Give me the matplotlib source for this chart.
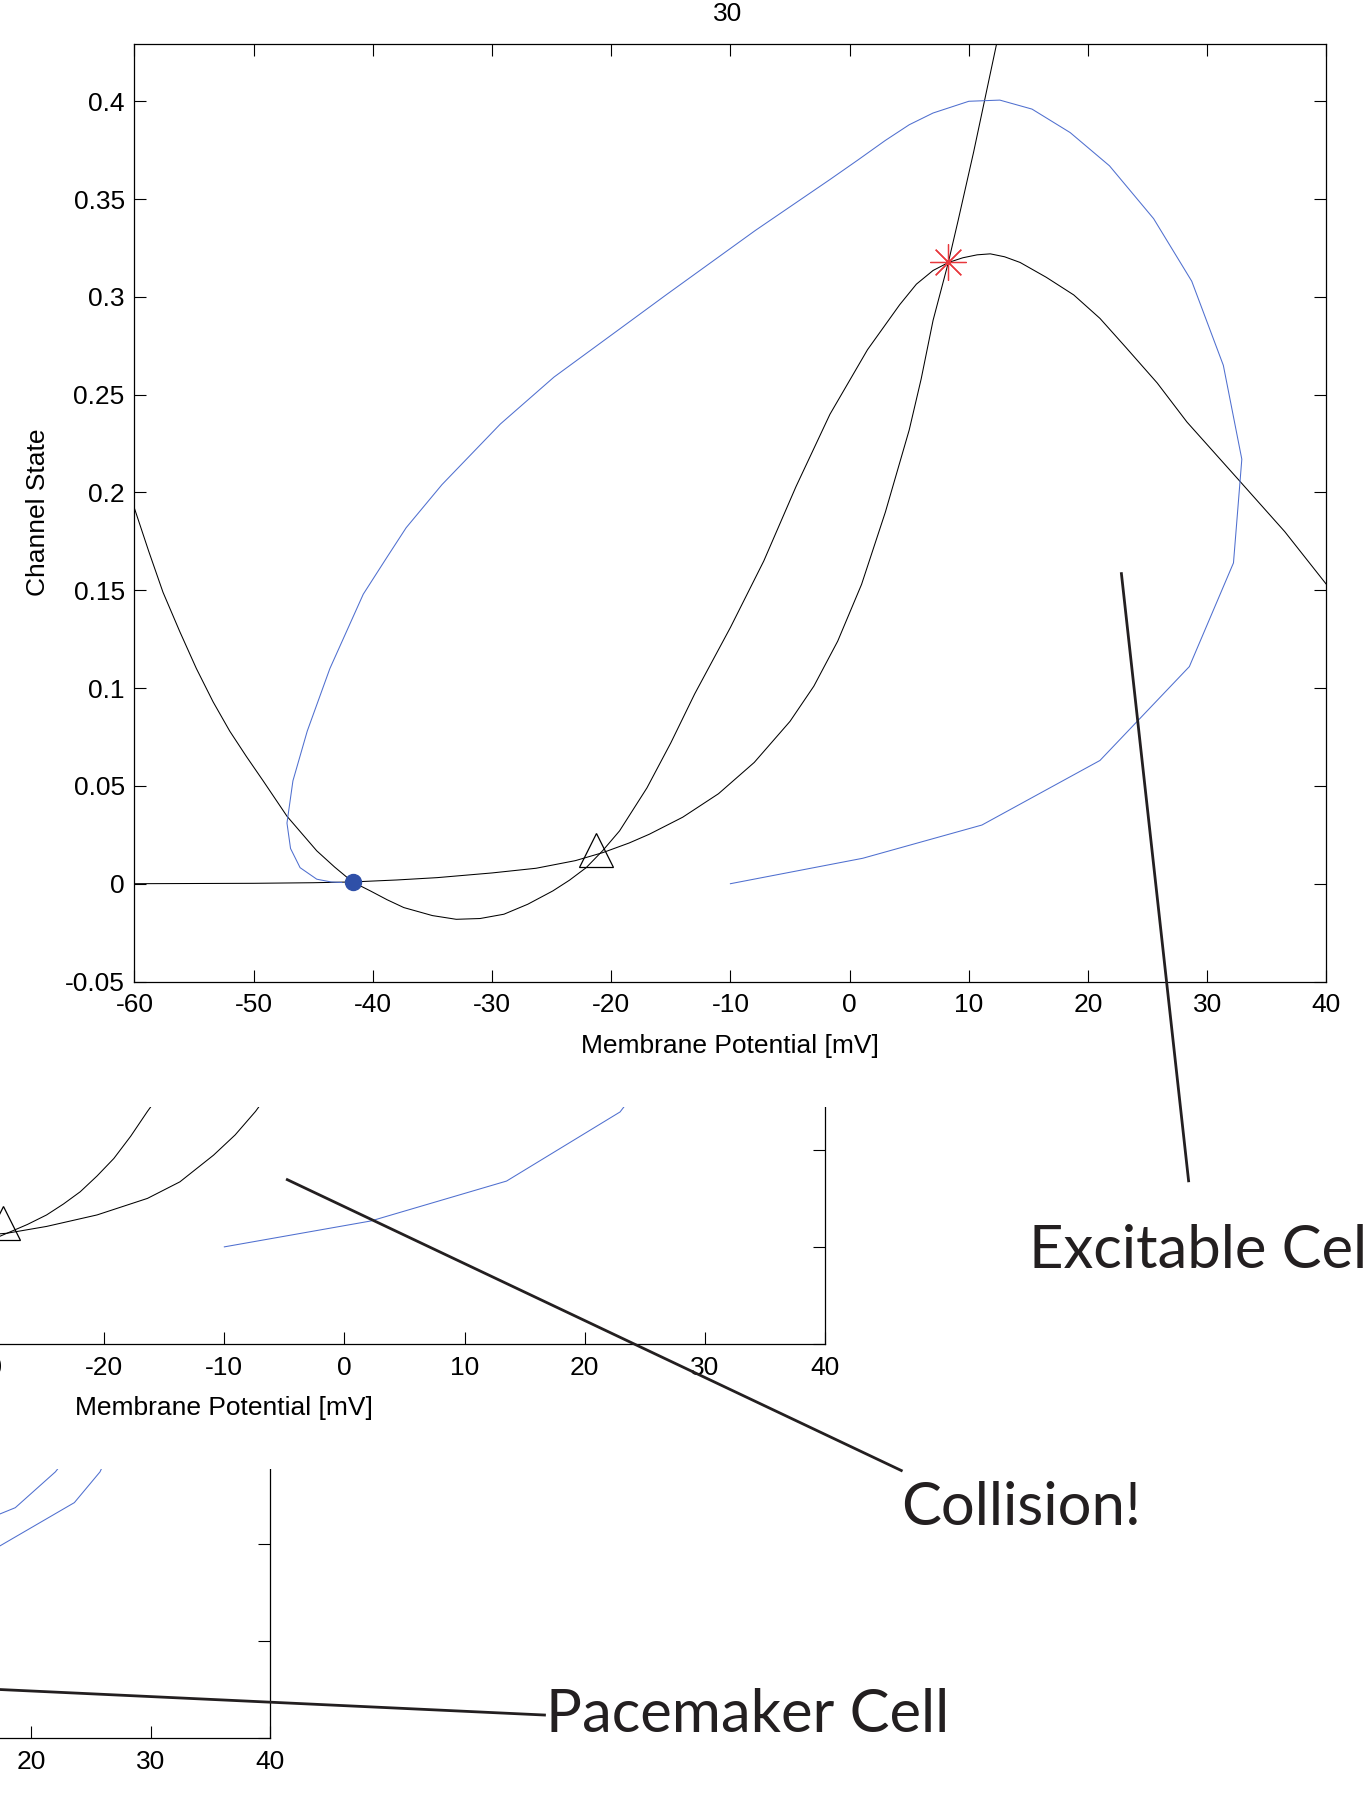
import matplotlib
import matplotlib.pyplot as plt
from matplotlib.lines import Line2D
from matplotlib.patches import Rectangle

matplotlib.use("Agg")

plt.rcParams["font.family"] = ["Liberation Sans", "DejaVu Sans"]
plt.rcParams["axes.unicode_minus"] = False

# layout grid of the reference (px), used only for placing panels and notes
W, H = 1180, 1568

# ---- data -------------------------------------------------------------
x_ticks = [-60, -50, -40, -30, -20, -10, 0, 10, 20, 30, 40]
x_tick_labels = ["-60", "-50", "-40", "-30", "-20", "-10", "0", "10", "20", "30", "40"]
y_ticks = [-0.05, 0, 0.05, 0.1, 0.15, 0.2, 0.25, 0.3, 0.35, 0.4]
y_tick_labels = ["-0.05", "0", "0.05", "0.1", "0.15", "0.2", "0.25", "0.3", "0.35", "0.4"]

# main panel: V-nullcline (N shaped), s-nullcline (steep), trajectory
null_a_v = [-60, -58.8, -57.6, -56.2, -54.8, -53.4, -52.0, -50.6, -49.2, -47.2, -44.7,
            -43.2, -41.7, -40.2, -38.8, -37.4, -35.0, -33.0, -31.0, -29.0, -27.0, -24.9,
            -23.5, -22.1, -20.7, -19.3, -17.0, -15.0, -13.0, -10.0, -7.2, -4.5, -1.65,
            1.5, 4.2, 5.6, 7.0, 8.3, 9.5, 10.7, 11.8, 13.0, 14.3, 16.5, 18.8, 21.0, 23.2,
            25.8, 28.3, 30.5, 32.7, 36.5, 40.0]
null_a_s = [0.192, 0.170, 0.149, 0.129, 0.110, 0.093, 0.078, 0.065, 0.0526, 0.0345,
            0.0168, 0.0085, 0.0009, -0.0037, -0.0082, -0.0122, -0.0163, -0.0182, -0.0178,
            -0.0156, -0.0105, -0.0037, 0.0018, 0.0082, 0.0170, 0.027, 0.049, 0.072, 0.097,
            0.131, 0.165, 0.203, 0.240, 0.273, 0.296, 0.3065, 0.3135, 0.3176, 0.320,
            0.3215, 0.322, 0.3205, 0.3176, 0.310, 0.301, 0.289, 0.274, 0.256, 0.236,
            0.221, 0.206, 0.180, 0.153]

null_b_v = [-60, -50, -45, -41.7, -38, -34.6, -30, -26.3, -23, -20.7, -18.5, -16.8, -14,
            -11, -8, -5, -3, -1, 1, 3, 5, 6, 7.0, 8.28, 9.1, 10.4, 12.7]
null_b_s = [0.0, 0.0002, 0.0005, 0.0009, 0.0019, 0.0031, 0.0055, 0.0079, 0.0118, 0.0159,
            0.0208, 0.0253, 0.034, 0.046, 0.062, 0.083, 0.101, 0.124, 0.153, 0.190,
            0.232, 0.258, 0.288, 0.3176, 0.339, 0.374, 0.44]

traj_v = [-10, 1.1, 11.1, 21.0, 28.5, 32.2, 32.9, 31.35, 28.7, 25.5, 21.8, 18.5, 15.3,
          12.6, 10.0, 7.0, 5.0, 3.0, 0.7, -1.65, -7.9, -15.4, -19.2, -24.8, -29.3,
          -34.2, -37.2, -38.8, -40.8, -43.6, -45.5, -46.7, -47.2, -46.9, -46.1, -44.7,
          -43.5, -42.6]
traj_s = [0.0, 0.013, 0.030, 0.063, 0.111, 0.164, 0.217, 0.265, 0.308, 0.340, 0.367,
          0.384, 0.396, 0.4006, 0.400, 0.394, 0.388, 0.380, 0.370, 0.360, 0.334, 0.301,
          0.284, 0.259, 0.235, 0.204, 0.182, 0.167, 0.148, 0.110, 0.078, 0.0526, 0.031,
          0.018, 0.0082, 0.0023, 0.0009, 0.0006]

rest_point = (-41.7, 0.0009)
saddle_point = (-21.3, 0.0172)
unstable_point = (8.28, 0.3176)

# middle panel (mostly hidden)
mid_a_v = [-33.0, -28.1, -26.4, -24.8, -23.4, -22.0, -20.6, -19.2, -17.8, -16.4, -14.0]
mid_a_s = [-0.006, 0.007, 0.0115, 0.0164, 0.0220, 0.0283, 0.0364, 0.0454, 0.0568, 0.0696, 0.090]
mid_b_v = [-36.0, -28.1, -24.8, -20.6, -16.4, -13.7, -10.9, -9.1, -7.4, -5.0]
mid_b_s = [0.003, 0.007, 0.0105, 0.0164, 0.0249, 0.0334, 0.0471, 0.0575, 0.0696, 0.090]
mid_traj_v = [-10, 2.2, 13.5, 22.95, 28.0]
mid_traj_s = [0.0, 0.0133, 0.0338, 0.0693, 0.11]
mid_saddle = (-28.4, 0.0125)

# bottom panel (mostly hidden)
low_traj1_v = [14.0, 17.38, 18.66, 22.02, 25.0]
low_traj1_s = [0.058, 0.0652, 0.0684, 0.0868, 0.11]
low_traj2_v = [14.0, 17.38, 23.61, 25.76, 27.5]
low_traj2_s = [0.040, 0.0488, 0.0710, 0.0868, 0.11]

BLUE = "#4f6fcf"
DOT = "#2f50a8"
INK = "#231f20"
FS = 19


def rect(left, right, top, bottom):
    return [left / W, 1 - bottom / H, (right - left) / W, (bottom - top) / H]


def phase_axes(fig, box, z, show_y=True):
    ax = fig.add_axes(box)
    ax.set_zorder(z)
    ax.set_xlim(-60, 40)
    ax.set_ylim(-0.05, 0.4295)
    ax.set_xticks(x_ticks)
    ax.set_xticklabels(x_tick_labels)
    ax.set_yticks(y_ticks)
    ax.set_yticklabels(y_tick_labels)
    ax.tick_params(direction="in", length=8.3, width=0.8, top=True, right=True,
                   labelsize=FS, colors="black", labelleft=show_y)
    ax.tick_params(axis="x", pad=8.5)
    ax.tick_params(axis="y", pad=7)
    for sp in ax.spines.values():
        sp.set_linewidth(0.9)
    ax.set_xlabel("Membrane Potential [mV]", fontsize=FS)
    ax.xaxis.set_label_coords(0.5, -0.056)
    return ax


fig = plt.figure(figsize=(13.67, 18.17), dpi=100)

# bottom panel (pacemaker), pasted below the others
ax3 = phase_axes(fig, rect(233 - 1030, 233, 1500 - 805.6, 1500), 0, show_y=False)
ax3.plot(low_traj1_v, low_traj1_s, color=BLUE, lw=0.75)
ax3.plot(low_traj2_v, low_traj2_s, color=BLUE, lw=0.75)

fig.add_artist(Rectangle((0, 1 - 1268 / H), 1, (1268 - 955) / H, transform=fig.transFigure,
                         facecolor="white", edgecolor="none", zorder=1))

# middle panel (collision)
ax2 = phase_axes(fig, rect(712 - 1036.7, 712, 1160 - 805.6, 1160), 2, show_y=False)
ax2.plot(mid_a_v, mid_a_s, color="black", lw=0.75)
ax2.plot(mid_b_v, mid_b_s, color="black", lw=0.75)
ax2.plot(mid_traj_v, mid_traj_s, color=BLUE, lw=0.75)
ax2.plot(*mid_saddle, marker="^", ms=25, mfc="none", mec="black", mew=0.9)

fig.add_artist(Rectangle((0, 1 - 955 / H), 1, 955 / H, transform=fig.transFigure,
                         facecolor="white", edgecolor="none", zorder=3))

# main panel (excitable cell)
ax = phase_axes(fig, rect(116, 1145, 847 - 809.4, 847), 4)
ax.plot(null_a_v, null_a_s, color="black", lw=0.75)
ax.plot(null_b_v, null_b_s, color="black", lw=0.75)
ax.plot(traj_v, traj_s, color=BLUE, lw=0.75)
ax.plot(*rest_point, marker="o", ms=11.5, color=DOT, mec=DOT)
ax.plot(*saddle_point, marker="^", ms=25, mfc="none", mec="black", mew=0.9)
ax.plot(*unstable_point, marker=(8, 2, 0), ms=26, color="#e8383d", mew=0.9)
ax.set_ylabel("Channel State", fontsize=FS)
ax.yaxis.set_label_coords(-0.071, 0.5)

# tick label of a panel further up, left over at the top edge
fig.text(628 / W, 1 - 12 / H, "30", ha="center", va="center", fontsize=FS, zorder=10)

# annotations
notes = [
    ("Excitable Cell", (888, 1094), [(968, 495), (1026, 1019)]),
    ("Collision!", (778, 1316), [(248, 1018), (778, 1269)]),
    ("Pacemaker Cell", (471, 1495), [(0, 1458), (470, 1480)]),
]
for label, (tx, ty), pts in notes:
    xs = [p[0] / W for p in pts]
    ys = [1 - p[1] / H for p in pts]
    fig.add_artist(Line2D(xs, ys, transform=fig.transFigure, color=INK, lw=2.0, zorder=10))
    fig.text(tx / W, 1 - ty / H, label, ha="left", va="baseline", fontsize=43,
             family=["Lato", "DejaVu Sans"], color=INK, zorder=10)

fig.savefig("out.png", dpi=100)
plt.close(fig)
